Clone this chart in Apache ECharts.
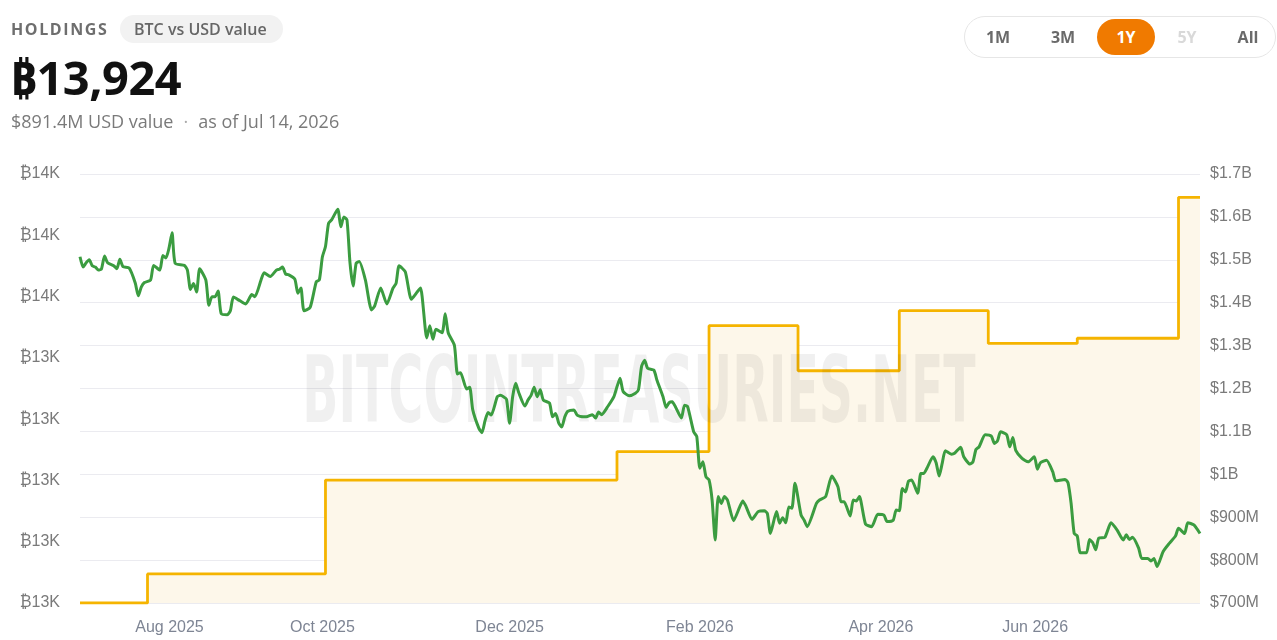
<!DOCTYPE html>
<html>
<head>
<meta charset="utf-8">
<title>Holdings - BTC vs USD value</title>
<script src="https://cdn.jsdelivr.net/npm/echarts@6/dist/echarts.min.js"></script>
<style>
    html, body { margin: 0; padding: 0; background: #fff; }
    body { width: 1277px; height: 640px; position: relative; overflow: hidden;
           font-family: "Open Sans", "Noto Sans", "DejaVu Sans", sans-serif; }
    #myChart { position: absolute; left: 0; top: 0; width: 1277px; height: 640px; }
    .hdr { position: absolute; z-index: 2; white-space: nowrap; }
    .kicker { left: 11px; top: 18px; font-size: 16px; font-weight: 700; letter-spacing: 1.6px; color: #6e6e6e; }
    .pill { left: 120px; top: 15px; height: 28px; line-height: 28px; padding: 0 16px 0 14px; border-radius: 14px;
            background: #f2f2f2; font-size: 16px; font-weight: 600; color: #666; }
    .big { left: 10px; top: 45px; font-size: 47px; font-weight: 700; color: #111; letter-spacing: -0.5px;
           font-family: "Noto Sans", "DejaVu Sans", sans-serif; }
    .sub { left: 11px; top: 109px; font-size: 18px; color: #7a7a7a; }
    .sub .dot { margin: 0 10px; color: #aaa; }
    .range { left: 964px; top: 16px; width: 310px; height: 40px; border: 1px solid #e6e6e6; border-radius: 21px; }
    .range span { position: absolute; top: 0; height: 40px; line-height: 40px; font-size: 16px; font-weight: 700;
                  color: #6a6a6a; transform: translateX(-50%); }
    .range span.on { top: 2px; width: 58px; height: 36px; line-height: 36px; border-radius: 18px; background: #f07a00;
                     color: #fff; text-align: center; }
    .range span.off { color: #d9d9d9; }
</style>
</head>
<body>
<div class="hdr kicker">HOLDINGS</div>
<div class="hdr pill">BTC vs USD value</div>
<div class="hdr big">₿13,924</div>
<div class="hdr sub">$891.4M USD value<span class="dot">·</span>as of Jul 14, 2026</div>
<div class="hdr range">
    <span style="left:33px">1M</span>
    <span style="left:98px">3M</span>
    <span class="on" style="left:161px">1Y</span>
    <span class="off" style="left:222px">5Y</span>
    <span style="left:283px">All</span>
</div>
<div id="myChart"></div>

<script>
// BTC holdings (left axis), value changes on these dates
const btcDates = ['2025-07-14', '2025-08-05', '2025-10-02', '2026-01-05', '2026-02-04',
    '2026-03-05', '2026-04-07', '2026-05-06', '2026-06-04', '2026-07-07', '2026-07-14'];
const btcHoldings = [12600, 12695, 13001, 13094, 13505, 13358, 13554, 13447, 13464, 13924, 13924];

// USD value of holdings, $M (right axis)
const usdDates = [
    '2025-07-14', '2025-07-15', '2025-07-16', '2025-07-17', '2025-07-18', '2025-07-19', '2025-07-20', '2025-07-21',
    '2025-07-22', '2025-07-23', '2025-07-25', '2025-07-26', '2025-07-27', '2025-07-28', '2025-07-30', '2025-08-01',
    '2025-08-02', '2025-08-03', '2025-08-04', '2025-08-06', '2025-08-07', '2025-08-09', '2025-08-10', '2025-08-11',
    '2025-08-12', '2025-08-13', '2025-08-14', '2025-08-17', '2025-08-18', '2025-08-19', '2025-08-20', '2025-08-21',
    '2025-08-22', '2025-08-24', '2025-08-25', '2025-08-26', '2025-08-27', '2025-08-28', '2025-08-29', '2025-08-31',
    '2025-09-01', '2025-09-02', '2025-09-04', '2025-09-06', '2025-09-08', '2025-09-09', '2025-09-11', '2025-09-12',
    '2025-09-14', '2025-09-16', '2025-09-17', '2025-09-18', '2025-09-19', '2025-09-20', '2025-09-22', '2025-09-23',
    '2025-09-24', '2025-09-25', '2025-09-27', '2025-09-29', '2025-09-30', '2025-10-01', '2025-10-02', '2025-10-03',
    '2025-10-04', '2025-10-06', '2025-10-07', '2025-10-08', '2025-10-09', '2025-10-10', '2025-10-11', '2025-10-12',
    '2025-10-13', '2025-10-15', '2025-10-17', '2025-10-18', '2025-10-20', '2025-10-22', '2025-10-24', '2025-10-25',
    '2025-10-26', '2025-10-28', '2025-10-30', '2025-11-01', '2025-11-02', '2025-11-04', '2025-11-05', '2025-11-06',
    '2025-11-07', '2025-11-09', '2025-11-10', '2025-11-11', '2025-11-13', '2025-11-14', '2025-11-15', '2025-11-17',
    '2025-11-18', '2025-11-19', '2025-11-21', '2025-11-22', '2025-11-23', '2025-11-24', '2025-11-25', '2025-11-27',
    '2025-11-28', '2025-11-29', '2025-11-30', '2025-12-01', '2025-12-02', '2025-12-03', '2025-12-04', '2025-12-06',
    '2025-12-07', '2025-12-08', '2025-12-09', '2025-12-10', '2025-12-11', '2025-12-12', '2025-12-14', '2025-12-15',
    '2025-12-16', '2025-12-17', '2025-12-18', '2025-12-19', '2025-12-20', '2025-12-22', '2025-12-23', '2025-12-25',
    '2025-12-26', '2025-12-28', '2025-12-29', '2025-12-30', '2025-12-31', '2026-01-02', '2026-01-04', '2026-01-05',
    '2026-01-06', '2026-01-07', '2026-01-09', '2026-01-11', '2026-01-12', '2026-01-13', '2026-01-14', '2026-01-15',
    '2026-01-17', '2026-01-18', '2026-01-20', '2026-01-21', '2026-01-22', '2026-01-23', '2026-01-24', '2026-01-26',
    '2026-01-27', '2026-01-28', '2026-01-30', '2026-01-31', '2026-02-01', '2026-02-02', '2026-02-03', '2026-02-04',
    '2026-02-05', '2026-02-06', '2026-02-07', '2026-02-08', '2026-02-09', '2026-02-10', '2026-02-12', '2026-02-14',
    '2026-02-15', '2026-02-16', '2026-02-18', '2026-02-20', '2026-02-22', '2026-02-23', '2026-02-24', '2026-02-26',
    '2026-02-27', '2026-02-28', '2026-03-01', '2026-03-02', '2026-03-03', '2026-03-04', '2026-03-06', '2026-03-07',
    '2026-03-08', '2026-03-11', '2026-03-12', '2026-03-14', '2026-03-16', '2026-03-18', '2026-03-19', '2026-03-20',
    '2026-03-22', '2026-03-23', '2026-03-24', '2026-03-25', '2026-03-27', '2026-03-29', '2026-03-31', '2026-04-02',
    '2026-04-03', '2026-04-05', '2026-04-06', '2026-04-07', '2026-04-08', '2026-04-09', '2026-04-10', '2026-04-11',
    '2026-04-13', '2026-04-14', '2026-04-15', '2026-04-16', '2026-04-18', '2026-04-19', '2026-04-20', '2026-04-21',
    '2026-04-22', '2026-04-24', '2026-04-25', '2026-04-27', '2026-04-28', '2026-04-30', '2026-05-01', '2026-05-02',
    '2026-05-03', '2026-05-05', '2026-05-07', '2026-05-08', '2026-05-09', '2026-05-10', '2026-05-12', '2026-05-13',
    '2026-05-14', '2026-05-15', '2026-05-17', '2026-05-19', '2026-05-21', '2026-05-22', '2026-05-23', '2026-05-25',
    '2026-05-27', '2026-05-28', '2026-05-31', '2026-06-01', '2026-06-02', '2026-06-03', '2026-06-04', '2026-06-05',
    '2026-06-07', '2026-06-08', '2026-06-09', '2026-06-10', '2026-06-11', '2026-06-13', '2026-06-15', '2026-06-17',
    '2026-06-19', '2026-06-20', '2026-06-21', '2026-06-22', '2026-06-24', '2026-06-25', '2026-06-27', '2026-06-28',
    '2026-06-29', '2026-06-30', '2026-07-02', '2026-07-04', '2026-07-06', '2026-07-07', '2026-07-09', '2026-07-10',
    '2026-07-12', '2026-07-14'
];
const usdValues = [
    1507, 1483, 1493, 1500, 1486, 1483, 1476, 1479,
    1509, 1493, 1486, 1479, 1501, 1484, 1481, 1446,
    1416, 1437, 1447, 1453, 1487, 1476, 1510, 1504,
    1527, 1563, 1492, 1487, 1476, 1431, 1445, 1425,
    1479, 1453, 1394, 1414, 1414, 1427, 1375, 1372,
    1381, 1413, 1405, 1397, 1419, 1414, 1453, 1470,
    1461, 1476, 1478, 1483, 1467, 1465, 1455, 1422,
    1434, 1381, 1389, 1449, 1453, 1507, 1531, 1585,
    1593, 1618, 1577, 1600, 1593, 1492, 1439, 1492,
    1496, 1453, 1383, 1392, 1434, 1397, 1434, 1445,
    1486, 1472, 1408, 1426, 1434, 1318, 1346, 1315,
    1338, 1330, 1374, 1330, 1301, 1234, 1237, 1199,
    1203, 1150, 1107, 1097, 1125, 1144, 1138, 1181,
    1184, 1181, 1175, 1119, 1181, 1212, 1190, 1159,
    1173, 1184, 1203, 1181, 1197, 1173, 1166, 1134,
    1142, 1120, 1110, 1134, 1147, 1150, 1138, 1134,
    1134, 1139, 1131, 1145, 1139, 1158, 1181, 1204,
    1224, 1193, 1183, 1189, 1197, 1251, 1266, 1247,
    1243, 1220, 1181, 1156, 1167, 1169, 1158, 1131,
    1161, 1158, 1099, 1088, 1014, 1029, 994, 987,
    940, 847, 948, 932, 948, 940, 892, 924,
    938, 926, 895, 913, 915, 909, 862, 913,
    886, 899, 887, 924, 921, 979, 905, 893,
    878, 932, 940, 948, 996, 971, 936, 936,
    903, 940, 938, 948, 884, 878, 907, 905,
    890, 893, 917, 915, 967, 959, 984, 987,
    956, 1002, 1002, 1014, 1041, 1027, 996, 1026,
    1055, 1047, 1049, 1063, 1041, 1024, 1029, 1058,
    1064, 1092, 1089, 1072, 1078, 1099, 1092, 1064,
    1086, 1055, 1037, 1029, 1041, 1012, 1027, 1033,
    1006, 985, 988, 980, 932, 862, 856, 817,
    817, 848, 841, 824, 851, 853, 887, 870,
    847, 859, 848, 853, 828, 804, 804, 798,
    804, 785, 820, 839, 856, 874, 862, 887,
    882, 862
];

// axes
const xRange = ['2025-07-14', '2026-07-14'];
const xLabelDates = ['2025-08-01', '2025-10-01', '2025-12-01', '2026-02-01', '2026-04-01', '2026-06-01'];
const btcTicks = [12600, 12800, 13000, 13200, 13400, 13600, 13800, 14000];
const usdTicks = [700, 800, 900, 1000, 1100, 1200, 1300, 1400, 1500, 1600, 1700];
const monthNames = ['Jan', 'Feb', 'Mar', 'Apr', 'May', 'Jun', 'Jul', 'Aug', 'Sep', 'Oct', 'Nov', 'Dec'];

// dates as UTC timestamps, the x axis is a plain value axis over them
const toTime = d => Date.parse(d + 'T00:00:00Z');

const myChart = echarts.init(document.getElementById('myChart'));

const option = {
    animation: false,
    grid: {left: 80, right: 77, top: 174, bottom: 37},
    graphic: [{
        type: 'text',
        x: 639, y: 398,
        scaleX: 0.55,
        scaleY: 0.96,
        z: 3,
        silent: true,
        style: {
            text: 'BITCOINTREASURIES.NET',
            fontFamily: '"DejaVu Sans Condensed", "DejaVu Sans"',
            fontWeight: 'bold',
            fontSize: 96,
            fill: 'rgba(0,0,0,0.06)',
            align: 'center',
            verticalAlign: 'middle'
        }
    }],
    xAxis: {
        type: 'value',
        min: toTime(xRange[0]),
        max: toTime(xRange[1]),
        axisLine: {show: false},
        axisTick: {show: false},
        splitLine: {show: false},
        axisLabel: {
            customValues: xLabelDates.map(toTime),
            formatter: v => {
                const d = new Date(v);
                return monthNames[d.getUTCMonth()] + ' ' + d.getUTCFullYear();
            },
            alignMinLabel: 'left',
            alignMaxLabel: 'right',
            color: '#7e8594',
            fontSize: 16,
            fontFamily: '"Liberation Sans", Arial, sans-serif',
            margin: 17
        }
    },
    yAxis: [
        {
            type: 'value',
            position: 'left',
            min: btcTicks[0],
            max: btcTicks[btcTicks.length - 1],
            interval: btcTicks[1] - btcTicks[0],
            axisLine: {show: false},
            axisTick: {show: false},
            splitLine: {show: false},
            axisLabel: {
                formatter: v => '₿' + Math.round(v / 1000) + 'K',
                color: '#7a7a7a',
                fontSize: 16,
                fontFamily: '"Liberation Sans", "DejaVu Sans", sans-serif',
                padding: [3, 0, 0, 0],
                margin: 20
            }
        },
        {
            type: 'value',
            position: 'right',
            min: usdTicks[0],
            max: usdTicks[usdTicks.length - 1],
            interval: usdTicks[1] - usdTicks[0],
            axisLine: {show: false},
            axisTick: {show: false},
            splitLine: {lineStyle: {color: '#ebebf0', width: 1}},
            axisLabel: {
                formatter: v => v >= 1000 ? '$' + (v / 1000) + 'B' : '$' + v + 'M',
                color: '#7a7a7a',
                fontSize: 16,
                fontFamily: '"Liberation Sans", Arial, sans-serif',
                padding: [3, 0, 0, 0],
                margin: 10
            }
        }
    ],
    series: [
        {
            name: 'BTC holdings',
            type: 'line',
            yAxisIndex: 0,
            step: 'end',
            showSymbol: false,
            z: 2,
            data: btcDates.map((d, i) => [toTime(d), btcHoldings[i]]),
            lineStyle: {color: '#f5b400', width: 2.8},
            areaStyle: {color: '#fdf7ea', opacity: 1}
        },
        {
            name: 'USD value',
            type: 'line',
            yAxisIndex: 1,
            smooth: 0.2,
            showSymbol: false,
            z: 5,
            data: usdDates.map((d, i) => [toTime(d), usdValues[i]]),
            lineStyle: {color: '#3b9c40', width: 3}
        }
    ]
};

myChart.setOption(option);
window.addEventListener('resize', () => myChart.resize());
</script>
</body>
</html>
